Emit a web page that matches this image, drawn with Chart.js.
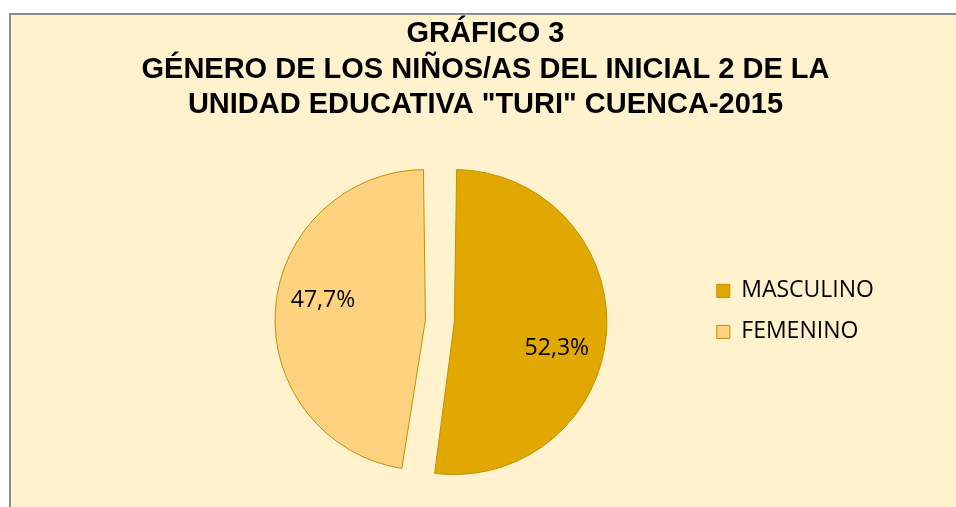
<!DOCTYPE html>
<html>
<head>
<meta charset="utf-8">
<script src="https://cdn.jsdelivr.net/npm/chart.js@4.4.1/dist/chart.umd.min.js"></script>
<style>
  html, body { margin: 0; padding: 0; background: #ffffff; }
  #box {
    position: absolute; left: 9px; top: 13px; width: 947px; height: 494px;
    background: #FFF2CC; border-left: 2px solid #8c8c8c; border-top: 2px solid #8c8c8c;
  }
  #box canvas { display: block; }
</style>
</head>
<body>
<div id="box"><canvas id="pie-chart" width="945" height="492"></canvas></div>
<script>
/// datos ///
const categorias = ["MASCULINO", "FEMENINO"];
const porcentajes = [52.3, 47.7];
const colores = ["#E0A800", "#FFD280"];
const titulo = ["GRÁFICO 3", "GÉNERO DE LOS NIÑOS/AS DEL INICIAL 2 DE LA", "UNIDAD EDUCATIVA \"TURI\" CUENCA-2015"];

// titulo centrado sobre todo el recuadro (no solo sobre el area del pastel)
const tituloGrafico = {
  id: "tituloGrafico",
  afterDraw(chart) {
    const c = chart.ctx;
    c.save();
    c.font = "bold 29px 'Liberation Sans', Arial";
    c.fillStyle = "#000000";
    c.textAlign = "center";
    c.textBaseline = "middle";
    titulo.forEach((linea, i) => {
      c.fillText(linea, chart.width / 2 + 2, 19 + i * 35.5);
    });
    c.restore();
  }
};

// etiquetas de porcentaje dentro de cada sector
const etiquetas = {
  id: "etiquetas",
  afterDatasetsDraw(chart) {
    const c = chart.ctx;
    const meta = chart.getDatasetMeta(0);
    c.save();
    c.font = "23px 'Open Sans'";
    c.fillStyle = "#000000";
    c.textAlign = "center";
    c.textBaseline = "middle";
    meta.data.forEach((arc, i) => {
      const p = arc.getProps(["x", "y", "startAngle", "endAngle", "outerRadius"], true);
      const mid = (p.startAngle + p.endAngle) / 2 + 0.13;
      const off = (arc.options.offset || 0) / 4;
      const d = off + p.outerRadius * 0.76;
      const txt = porcentajes[i].toFixed(1).replace(".", ",") + "%";
      c.fillText(txt, p.x + Math.cos(mid) * d, p.y + Math.sin(mid) * d + 3);
    });
    c.restore();
  }
};

const ctx = document.getElementById("pie-chart").getContext("2d");
new Chart(ctx, {
  type: "pie",
  data: {
    labels: categorias,
    datasets: [{
      data: porcentajes,
      backgroundColor: colores,
      borderColor: "#BF9000",
      borderWidth: 1,
      offset: 58
    }]
  },
  options: {
    responsive: false,
    animation: false,
    radius: 138,
    layout: { padding: { left: 170, right: 72, top: 125, bottom: 5 } },
    plugins: {
      title: { display: false },
      legend: {
        position: "right",
        align: "start",
        title: { display: true, text: "", padding: { top: 107, bottom: 0 } },
        labels: {
          font: { family: "'Open Sans'", size: 23 },
          color: "#000000",
          boxWidth: 13,
          boxHeight: 13,
          padding: 18
        }
      },
      tooltip: { enabled: false }
    }
  },
  plugins: [etiquetas, tituloGrafico]
});
</script>
</body>
</html>
